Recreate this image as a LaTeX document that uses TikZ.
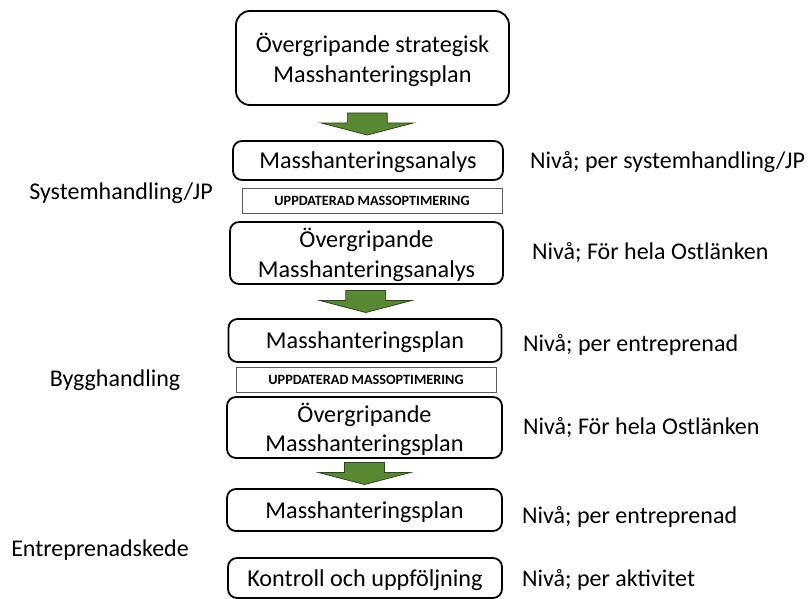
\documentclass[tikz,border=0pt]{standalone}
\usepackage{fontspec}
\setmainfont{Carlito}
\usetikzlibrary{calc}
\definecolor{arrgreen}{RGB}{88,136,50}
\definecolor{arrline}{RGB}{45,70,30}
\definecolor{rectline}{RGB}{90,90,90}
\tikzset{
  x=1pt, y=-1pt,
  box/.style={draw=black, line width=1.8pt, rounded corners=9pt, align=center,
    inner sep=0pt, text depth=0pt, font=\fontsize{24.2}{29.5}\selectfont},
  upd/.style={draw=rectline, line width=0.8pt, inner sep=0pt, minimum width=260pt,
    minimum height=25pt, font=\fontsize{14.2}{16}\selectfont\bfseries},
  side/.style={font=\fontsize{24}{28}\selectfont, inner sep=0pt},
  arrowfill/.style={fill=arrgreen, draw=arrline, line width=0.8pt},
  bigarrow/.pic={\draw[arrowfill] (-20,-11) -- (20,-11) -- (20,-1) -- (46,-1) -- (0,11) -- (-46,-1) -- (-20,-1) -- cycle;}
}
\begin{document}
\begin{tikzpicture}
\useasboundingbox (0,0) rectangle (809,599);
\node[box, minimum width=273pt, minimum height=94pt, rounded corners=14pt] (b1) at (372.5,58) {Övergripande strategisk\\Masshanteringsplan};
\node[box, minimum width=270pt, minimum height=39pt] (b2) at (368,160.5) {Masshanteringsanalys};
\node[upd] (r1) at (372,200.5) {UPPDATERAD MASSOPTIMERING};
\node[box, minimum width=273pt, minimum height=62pt] (b3) at (366.5,253) {Övergripande\\Masshanteringsanalys};
\node[box, minimum width=273pt, minimum height=43pt] (b4) at (365,340.5) {Masshanteringsplan};
\node[upd] (r2) at (366,379.5) {UPPDATERAD MASSOPTIMERING};
\node[box, minimum width=275pt, minimum height=61pt] (b5) at (364.5,427.5) {Övergripande\\Masshanteringsplan};
\node[box, minimum width=275pt, minimum height=42pt] (b6) at (364.5,510) {Masshanteringsplan};
\node[box, minimum width=274pt, minimum height=40pt] (b7) at (365,578) {Kontroll och uppföljning};

\path ($(b1.south)!0.5!(b2.north)$) ++(-3,1) pic {bigarrow};
\path ($(b3.south)!0.5!(b4.north)$) pic {bigarrow};
\path ($(b5.south)!0.5!(b6.north)$) pic {bigarrow};

\node[side] (l1) at (121,193) {Systemhandling/JP};
\node[side] (l2) at (115,380) {Bygghandling};
\node[side] (l3) at (100,550) {Entreprenadskede};

\node[side, anchor=west] (n1) at (530,162) {Nivå; per systemhandling/JP};
\node[side, anchor=west] (n2) at (532,253) {Nivå; För hela Ostlänken};
\node[side, anchor=west] (n3) at (523,345) {Nivå; per entreprenad};
\node[side, anchor=west] (n4) at (523,428) {Nivå; För hela Ostlänken};
\node[side, anchor=west] (n5) at (522,517) {Nivå; per entreprenad};
\node[side, anchor=west] (n6) at (522,580) {Nivå; per aktivitet};
\end{tikzpicture}
\end{document}
